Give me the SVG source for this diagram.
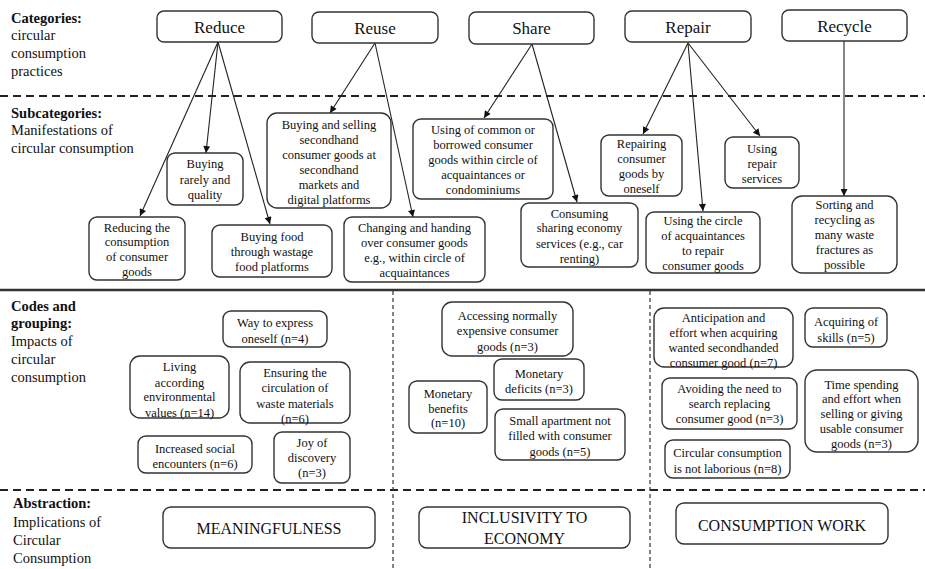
<svg xmlns="http://www.w3.org/2000/svg" width="925" height="569" viewBox="0 0 925 569" font-family="'Liberation Serif', 'Times New Roman', serif">
<defs>
<style>
text{font-family:"Liberation Serif","Times New Roman",serif;fill:#111;}
.cat rect,.sub rect,.code rect,.abs rect{fill:#fff;stroke:#333;stroke-width:1.4;}
.cat text{font-size:17px;text-anchor:middle;}
.sub text,.code text{font-size:12.5px;text-anchor:middle;}
.abs text{font-size:16px;text-anchor:middle;}
.lbl{font-size:14.5px;}
.lbl .b{font-weight:bold;}
.dh{stroke:#222;stroke-width:2;stroke-dasharray:8 5;fill:none;}
.dv{stroke:#333;stroke-width:1.2;stroke-dasharray:4 3;fill:none;}
.sl{stroke:#333;stroke-width:2.5;fill:none;}
#connectors line{stroke:#222;stroke-width:1.1;marker-end:url(#ah);}
</style>
<marker id="ah" viewBox="0 0 10 10" refX="10" refY="5" markerWidth="9" markerHeight="7" markerUnits="userSpaceOnUse" orient="auto">
<path d="M0,0 L10,5 L0,10 z" fill="#111"/>
</marker>
</defs>
<rect width="925" height="569" fill="#fff"/>

<g id="dividers">
<line class="dh" x1="0" y1="96" x2="925" y2="96"/>
<line class="sl" x1="0" y1="290" x2="925" y2="290"/>
<line class="dh" x1="0" y1="490" x2="925" y2="490"/>
<line class="dv" x1="393" y1="291" x2="393" y2="569"/>
<line class="dv" x1="650" y1="291" x2="650" y2="569"/>
</g>

<g id="labels" class="lbl">
<text x="11" y="23" class="b">Categories:</text>
<text x="11" y="40">circular</text>
<text x="11" y="58">consumption</text>
<text x="11" y="76">practices</text>
<text x="11" y="118" class="b">Subcategories:</text>
<text x="11" y="135">Manifestations of</text>
<text x="11" y="153">circular consumption</text>
<text x="11" y="311" class="b">Codes and</text>
<text x="11" y="328" class="b">grouping:</text>
<text x="11" y="346">Impacts of</text>
<text x="11" y="364">circular</text>
<text x="11" y="382">consumption</text>
<text x="13" y="508" class="b">Abstraction:</text>
<text x="13" y="527">Implications of</text>
<text x="13" y="545">Circular</text>
<text x="13" y="563">Consumption</text>
</g>

<g id="connectors">
<line x1="218" y1="42" x2="140" y2="216"/>
<line x1="218" y1="42" x2="206" y2="153"/>
<line x1="218" y1="42" x2="270" y2="224"/>
<line x1="375" y1="43" x2="330" y2="113"/>
<line x1="375" y1="43" x2="413" y2="217"/>
<line x1="532" y1="44" x2="484" y2="118"/>
<line x1="532" y1="44" x2="577" y2="202"/>
<line x1="688" y1="43" x2="643" y2="134"/>
<line x1="688" y1="43" x2="703" y2="211"/>
<line x1="688" y1="43" x2="760" y2="136"/>
<line x1="844" y1="41" x2="844" y2="196"/>
</g>

<g id="n-reduce" class="cat"><rect x="157" y="11" width="125" height="31" rx="7"/><text x="219.5" y="33">Reduce</text></g>
<g id="n-reuse" class="cat"><rect x="312" y="12" width="126" height="31" rx="7"/><text x="375" y="34">Reuse</text></g>
<g id="n-share" class="cat"><rect x="469" y="12" width="125" height="32" rx="7"/><text x="531.5" y="34">Share</text></g>
<g id="n-repair" class="cat"><rect x="625" y="11" width="126" height="31" rx="7"/><text x="688" y="33">Repair</text></g>
<g id="n-recycle" class="cat"><rect x="782" y="10" width="125" height="31" rx="7"/><text x="844.5" y="32">Recycle</text></g>

<g id="s-rarely" class="sub"><rect x="167" y="153" width="76" height="52" rx="8"/>
<text x="205" y="168">Buying</text><text x="205" y="183.5">rarely and</text><text x="205" y="199">quality</text></g>
<g id="s-reducing" class="sub"><rect x="89" y="217" width="96" height="63" rx="8"/>
<text x="137" y="231.5">Reducing the</text><text x="137" y="246">consumption</text><text x="137" y="261">of consumer</text><text x="137" y="276">goods</text></g>
<g id="s-food" class="sub"><rect x="212" y="225" width="120" height="52" rx="8"/>
<text x="272" y="240.5">Buying food</text><text x="272" y="255.5">through wastage</text><text x="272" y="270.5">food platforms</text></g>
<g id="s-buysell" class="sub"><rect x="267" y="113" width="124" height="95" rx="10"/>
<text x="329" y="128.5">Buying and selling</text><text x="329" y="143.5">secondhand</text><text x="329" y="158.5">consumer goods at</text><text x="329" y="173.5">secondhand</text><text x="329" y="188.5">markets and</text><text x="329" y="203.5">digital platforms</text></g>
<g id="s-changing" class="sub"><rect x="344" y="217" width="141" height="65" rx="8"/>
<text x="414.5" y="231.5">Changing and handing</text><text x="414.5" y="247">over consumer goods</text><text x="414.5" y="262">e.g., within circle of</text><text x="414.5" y="277">acquaintances</text></g>
<g id="s-common" class="sub"><rect x="413" y="119" width="140" height="80" rx="8"/>
<text x="483" y="133.5">Using of common or</text><text x="483" y="148.5">borrowed consumer</text><text x="483" y="163.5">goods within circle of</text><text x="483" y="178.5">acquaintances or</text><text x="483" y="193.5">condominiums</text></g>
<g id="s-sharingeco" class="sub"><rect x="521" y="203" width="117" height="64" rx="8"/>
<text x="579.5" y="217.5">Consuming</text><text x="579.5" y="232">sharing economy</text><text x="579.5" y="247.5">services (e.g., car</text><text x="579.5" y="262.5">renting)</text></g>
<g id="s-repairing" class="sub"><rect x="601" y="135" width="81" height="61" rx="8"/>
<text x="641.5" y="147.5">Repairing</text><text x="641.5" y="162.5">consumer</text><text x="641.5" y="177.5">goods by</text><text x="641.5" y="193">oneself</text></g>
<g id="s-circlerepair" class="sub"><rect x="646" y="212" width="114" height="61" rx="8"/>
<text x="703" y="224.5">Using the circle</text><text x="703" y="239.5">of acquaintances</text><text x="703" y="254.5">to repair</text><text x="703" y="270">consumer goods</text></g>
<g id="s-services" class="sub"><rect x="725" y="137" width="74" height="51" rx="8"/>
<text x="762" y="152.5">Using</text><text x="762" y="167.5">repair</text><text x="762" y="182.5">services</text></g>
<g id="s-sorting" class="sub"><rect x="792" y="196" width="105" height="77" rx="10"/>
<text x="844.5" y="208.5">Sorting and</text><text x="844.5" y="223.5">recycling as</text><text x="844.5" y="238.5">many waste</text><text x="844.5" y="253.5">fractures as</text><text x="844.5" y="268.5">possible</text></g>

<g id="c-express" class="code"><rect x="223" y="311" width="104" height="36" rx="8"/>
<text x="275" y="326.5">Way to express</text><text x="275" y="342.5">oneself (n=4)</text></g>
<g id="c-living" class="code"><rect x="130" y="356" width="99" height="62" rx="10"/>
<text x="179.5" y="370.5">Living</text><text x="179.5" y="386.5">according</text><text x="179.5" y="400.5">environmental</text><text x="179.5" y="417">values (n=14)</text></g>
<g id="c-ensuring" class="code"><rect x="240" y="362" width="110" height="61" rx="10"/>
<text x="295" y="376.5">Ensuring the</text><text x="295" y="391.5">circulation of</text><text x="295" y="407.5">waste materials</text><text x="295" y="422.5">(n=6)</text></g>
<g id="c-social" class="code"><rect x="138" y="436" width="114" height="37" rx="8"/>
<text x="195" y="452.5">Increased social</text><text x="195" y="467.5">encounters (n=6)</text></g>
<g id="c-joy" class="code"><rect x="274" y="432" width="76" height="51" rx="8"/>
<text x="312" y="446.5">Joy of</text><text x="312" y="461.5">discovery</text><text x="312" y="476.5">(n=3)</text></g>

<g id="c-accessing" class="code"><rect x="442" y="302" width="131" height="54" rx="10"/>
<text x="507.5" y="319.5">Accessing normally</text><text x="507.5" y="334.5">expensive consumer</text><text x="507.5" y="351">goods (n=3)</text></g>
<g id="c-deficits" class="code"><rect x="494" y="359" width="90" height="41" rx="8"/>
<text x="539" y="377.5">Monetary</text><text x="539" y="392.5">deficits (n=3)</text></g>
<g id="c-benefits" class="code"><rect x="409" y="381" width="78" height="52" rx="8"/>
<text x="448" y="397.5">Monetary</text><text x="448" y="412.5">benefits</text><text x="448" y="426.5">(n=10)</text></g>
<g id="c-apartment" class="code"><rect x="495" y="409" width="130" height="51" rx="8"/>
<text x="560" y="424.5">Small apartment not</text><text x="560" y="440">filled with consumer</text><text x="560" y="455.5">goods (n=5)</text></g>

<g id="c-anticipation" class="code"><rect x="654" y="308" width="139" height="59" rx="10"/>
<text x="723.5" y="321.5">Anticipation and</text><text x="723.5" y="336.5">effort when acquiring</text><text x="723.5" y="351.5">wanted secondhanded</text><text x="723.5" y="366.5">consumer good (n=7)</text></g>
<g id="c-skills" class="code"><rect x="805" y="308" width="82" height="39" rx="8"/>
<text x="846" y="325.5">Acquiring of</text><text x="846" y="342">skills (n=5)</text></g>
<g id="c-avoiding" class="code"><rect x="662" y="378" width="135" height="51" rx="8"/>
<text x="729.5" y="392.5">Avoiding the need to</text><text x="729.5" y="407.5">search replacing</text><text x="729.5" y="422.5">consumer good (n=3)</text></g>
<g id="c-time" class="code"><rect x="805" y="370" width="113" height="82" rx="12"/>
<text x="861.5" y="388.5">Time spending</text><text x="861.5" y="402.5">and effort when</text><text x="861.5" y="417.5">selling or giving</text><text x="861.5" y="432.5">usable consumer</text><text x="861.5" y="447.5">goods (n=3)</text></g>
<g id="c-notlaborious" class="code"><rect x="665" y="440" width="125" height="38" rx="8"/>
<text x="727.5" y="456.5">Circular consumption</text><text x="727.5" y="472.5">is not laborious (n=8)</text></g>

<g id="a-meaning" class="abs"><rect x="163" y="507" width="212" height="41" rx="8"/>
<text x="269" y="533.5">MEANINGFULNESS</text></g>
<g id="a-inclusivity" class="abs"><rect x="419" y="507" width="211" height="41" rx="8"/>
<text x="524.5" y="522.5">INCLUSIVITY TO</text><text x="524.5" y="543.5">ECONOMY</text></g>
<g id="a-work" class="abs"><rect x="676" y="503" width="212" height="41" rx="8"/>
<text x="782" y="530.5">CONSUMPTION WORK</text></g>
</svg>
